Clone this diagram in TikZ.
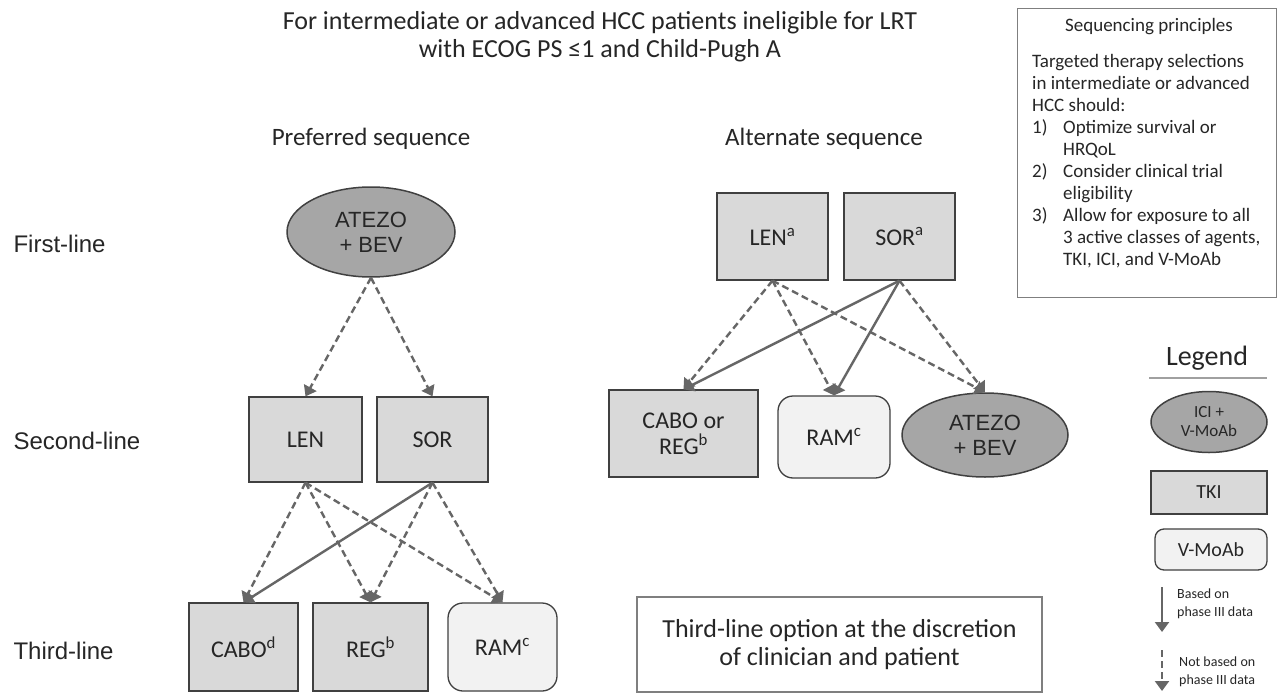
\documentclass[tikz,border=0pt]{standalone}
\usepackage{fontspec}
\setmainfont{Carlito}
\newfontfamily\arialfont{Liberation Sans}
\usetikzlibrary{arrows.meta,positioning,shapes.geometric}
\definecolor{SQInk}{HTML}{262626}
\definecolor{SQEdge}{HTML}{404040}
\definecolor{SQArrow}{HTML}{666666}
\definecolor{SQIci}{HTML}{A6A6A6}
\definecolor{SQTki}{HTML}{D9D9D9}
\definecolor{SQVmab}{HTML}{F2F2F2}
\definecolor{SQFrame}{HTML}{7F7F7F}
\definecolor{SQRule}{HTML}{A0A0A0}
\tikzset{
  phase3/.style={-{Triangle[length=10pt,width=14pt]},SQArrow,line width=2.4pt},
  nophase3/.style={phase3,dash pattern=on 7pt off 4pt},
  icinode/.style={ellipse,draw=SQEdge,line width=1.5pt,fill=SQIci,text=SQInk,
                  font=\arialfont\fontsize{22}{25}\selectfont,align=center,inner sep=0pt},
  tkibox/.style={rectangle,draw=SQEdge,line width=1.3pt,fill=SQTki,text=SQInk,
                 font=\fontsize{24}{26}\selectfont,align=center,inner sep=0pt},
  vmabbox/.style={tkibox,fill=SQVmab,rounded corners=15pt},
  frame/.style={draw=SQFrame,line width=1.2pt,fill=white},
  rowlabel/.style={text=SQInk,font=\arialfont\fontsize{24}{26}\selectfont,anchor=base west},
  heading/.style={text=SQInk,font=\fontsize{25}{26}\selectfont,anchor=base},
  bodytext/.style={text=SQInk,font=\fontsize{19}{22}\selectfont,align=left},
  smallnote/.style={text=SQInk,font=\fontsize{14}{18}\selectfont,align=left},
}
\begin{document}
\begin{tikzpicture}[x=1pt,y=-1pt]
  \useasboundingbox[fill=white] (0,0) rectangle (1277,693);
  % title and column heads
  \node[heading,align=center,font=\fontsize{26}{27.5}\selectfont,anchor=north] (title) at (600,8)
    {For intermediate or advanced HCC patients ineligible for LRT\\with ECOG PS ≤1 and Child-Pugh A};
  \node[heading] (prefhead) at (371,145) {Preferred sequence};
  \node[heading] (althead) at (824,145) {Alternate sequence};
  % rows
  \node[rowlabel] (first) at (10,252) {First-line};
  \node[rowlabel] (second) at (10,449) {Second-line};
  \node[rowlabel] (third) at (10,659) {Third-line};
  % preferred sequence
  \node[icinode,minimum width=168pt,minimum height=90pt] (atz) at (371,232) {ATEZO\\+ BEV};
  \node[tkibox,minimum width=113pt,minimum height=85pt] (len) at (305.5,439.5) {LEN};
  \node[tkibox,minimum width=111pt,minimum height=85pt] (sor) at (432.5,439.5) {SOR};
  \node[tkibox,minimum width=109pt,minimum height=88pt] (cabo) at (243.5,647) {CABO\textsuperscript{d}};
  \node[tkibox,minimum width=115pt,minimum height=88pt] (reg) at (370.5,647) {REG\textsuperscript{b}};
  \node[vmabbox,minimum width=109pt,minimum height=88pt] (ram) at (502.5,647) {RAM\textsuperscript{c}};
  \draw[nophase3] (atz.south) -- (len.north);
  \draw[nophase3] (atz.south) -- (sor.north);
  \foreach \t in {cabo,reg,ram}
    \draw[nophase3] (len.south) -- (\t.north);
  \draw[phase3] (sor.south) -- (cabo.north);
  \draw[nophase3] (sor.south) -- (reg.north);
  \draw[nophase3] (sor.south) -- (ram.north);
  % alternate sequence
  \node[tkibox,minimum width=111pt,minimum height=87pt] (altlen) at (772.5,236.5) {LEN\textsuperscript{a}};
  \node[tkibox,minimum width=111pt,minimum height=87pt] (altsor) at (899.5,236.5) {SOR\textsuperscript{a}};
  \node[tkibox,minimum width=149pt,minimum height=87pt] (altcabo) at (683.5,433.5) {CABO or\\REG\textsuperscript{b}};
  \node[vmabbox,minimum width=112pt,minimum height=82pt] (altram) at (834,437) {RAM\textsuperscript{c}};
  \node[icinode,minimum width=166pt,minimum height=84pt] (altatz) at (985,435) {ATEZO\\+ BEV};
  \foreach \t in {altcabo,altram,altatz}
    \draw[nophase3] (altlen.south) -- (\t.north);
  \draw[phase3] (altsor.south) -- (altcabo.north);
  \draw[phase3] (altsor.south) -- (altram.north);
  \draw[nophase3] (altsor.south) -- (altatz.north);
  \node[frame,minimum width=405pt,minimum height=95pt,align=center,
        font=\fontsize{26}{28}\selectfont,text=SQInk] (thirdopt) at (839.5,644.5)
    {Third-line option at the discretion\\of clinician and patient};
  % sequencing principles
  \node[frame,anchor=north west,minimum width=259pt,minimum height=289pt] (principles) at (1017,8) {};
  \node[bodytext,anchor=base] (prinhead) at (1149,32) {Sequencing principles};
  \node[bodytext,anchor=north west,inner sep=0pt] (prinbody) at (1032,54)
    {Targeted therapy selections\\
     in intermediate or advanced\\
     HCC should:\\
     \makebox[31pt][l]{1)}Optimize survival or\\
     \hspace*{31pt}HRQoL\\
     \makebox[31pt][l]{2)}Consider clinical trial\\
     \hspace*{31pt}eligibility\\
     \makebox[31pt][l]{3)}Allow for exposure to all\\
     \hspace*{31pt}3 active classes of agents,\\
     \hspace*{31pt}TKI, ICI, and V-MoAb};
  % legend
  \node[heading,font=\fontsize{28}{30}\selectfont] (legend) at (1207,365) {Legend};
  \draw[SQRule,line width=1.2pt] (1149,378) -- (1267,378);
  \node[icinode,minimum width=116pt,minimum height=61pt,font=\fontsize{17}{19}\selectfont] (keyici) at (1209,422) {ICI +\\V-MoAb};
  \node[tkibox,minimum width=116pt,minimum height=43pt,font=\fontsize{20}{22}\selectfont] (keytki) at (1209,492.5) {TKI};
  \node[vmabbox,minimum width=112pt,minimum height=41pt,rounded corners=9pt,font=\fontsize{20}{22}\selectfont] (keyvmab) at (1211,549.5) {V-MoAb};
  \coordinate (solidtop) at (1162,587);
  \coordinate (solidend) at (1162,632);
  \coordinate (dashtop) at (1162,650);
  \coordinate (dashend) at (1162,691);
  \draw[phase3,line width=2.2pt] (solidtop) -- (solidend);
  \draw[nophase3,line width=2.2pt] (dashtop) -- (dashend);
  \node[smallnote,anchor=north west,inner sep=0pt] (keysolid) at (1177,589) {Based on\\phase III data};
  \node[smallnote,anchor=north west,inner sep=0pt] (keydash) at (1179,657) {Not based on\\phase III data};
\end{tikzpicture}
\end{document}
